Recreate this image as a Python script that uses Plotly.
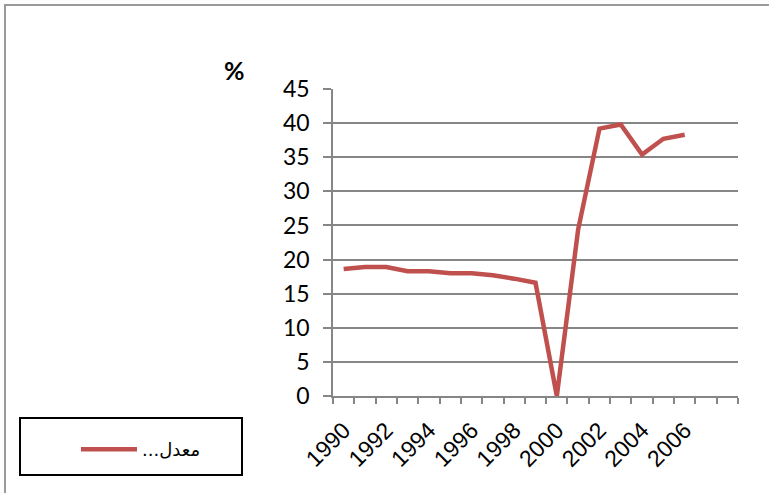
import plotly.graph_objects as go

years = [str(y) for y in range(1990, 2009)]
values = [18.6, 18.9, 18.9, 18.3, 18.3, 18.0, 18.0, 17.7, 17.2, 16.6,
          0.0, 24.4, 39.2, 39.8, 35.4, 37.7, 38.3, None, None]
tick_labels = [y if (int(y) % 2 == 0 and int(y) <= 2006) else "" for y in years]
y_ticks = list(range(0, 50, 5))
series_name = "...معدل"

W, H = 769, 493
L, R, T, B = 333, 738, 89, 396
pw, ph = R - L, B - T

def px(x):
    return (x - L) / pw

def py(y):
    return (B - y) / ph

fig = go.Figure()
fig.add_trace(go.Scatter(
    x=years, y=values, mode="lines", name=series_name,
    line=dict(color="#C0504D", width=4.5),
    connectgaps=False,
))

font_fam = "Lato, 'Open Sans', sans-serif"
fig.update_layout(
    width=W, height=H,
    margin=dict(l=L, r=W - R, t=T, b=H - B),
    paper_bgcolor="white", plot_bgcolor="white",
    font=dict(family=font_fam, size=23, color="black"),
    showlegend=True,
    legend=dict(
        xref="container", yref="container",
        x=76 / W, y=1 - 431 / H, xanchor="left", yanchor="top",
        bgcolor="rgba(0,0,0,0)", borderwidth=0,
        itemwidth=56,
        font=dict(family="DejaVu Sans, sans-serif", size=18),
    ),
    xaxis=dict(
        type="category", categoryorder="array", categoryarray=years,
        tickmode="array", tickvals=years, ticktext=tick_labels,
        tickangle=-45, tickson="boundaries",
        ticks="outside", ticklen=6, tickwidth=1.5, tickcolor="#868686",
        showline=True, linecolor="#868686", linewidth=1.5,
        showgrid=False, range=[-0.5, 18.5],
        ticklabelstandoff=10,
        tickfont=dict(size=23, family="'Liberation Sans', Arial, sans-serif"),
    ),
    yaxis=dict(
        range=[0, 45], tickvals=y_ticks,
        ticks="outside", ticklen=8, tickwidth=1.5, tickcolor="#868686",
        showline=True, linecolor="#868686", linewidth=1.5,
        showgrid=True, gridcolor="#868686", gridwidth=1.5,
        zeroline=False, ticklabelstandoff=9, tickfont=dict(size=23),
    ),
    annotations=[dict(
        text="<b>%</b>", xref="paper", yref="paper",
        x=px(234), y=py(70), xanchor="center", yanchor="middle",
        showarrow=False,
        font=dict(size=25, family=font_fam),
    )],
    shapes=[
        dict(type="rect", xref="paper", yref="paper",
             x0=px(5), x1=px(775), y0=py(500), y1=py(5),
             line=dict(color="#9a9a9a", width=2), layer="above"),
        dict(type="rect", xref="paper", yref="paper",
             x0=px(20), x1=px(242), y0=py(475), y1=py(418),
             line=dict(color="black", width=2), layer="above"),
    ],
)

fig.write_html("out.html", config={"displayModeBar": False},
               post_script="document.body.style.margin='0';")
